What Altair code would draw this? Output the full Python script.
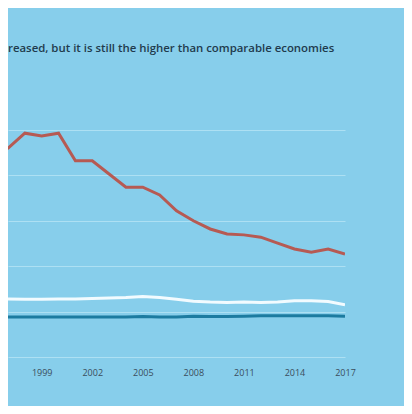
import altair as alt
import pandas as pd

years = list(range(1996, 2018))
red_vals = [44.5, 46.0, 49.3, 48.7, 49.3, 43.2, 43.2, 40.3, 37.4, 37.4, 35.7, 32.2,
            30.0, 28.2, 27.1, 26.9, 26.4, 25.1, 23.8, 23.1, 23.8, 22.7]
white_vals = [12.8, 12.8, 12.7, 12.7, 12.8, 12.8, 12.9, 13.0, 13.1, 13.3, 13.1, 12.7,
              12.3, 12.1, 12.0, 12.1, 12.0, 12.1, 12.4, 12.4, 12.2, 11.5]
blue_vals = [8.8, 8.8, 8.8, 8.8, 8.8, 8.8, 8.8, 8.8, 8.8, 8.9, 8.8, 8.8,
             9.0, 8.9, 8.9, 9.0, 9.1, 9.1, 9.1, 9.1, 9.1, 9.0]
series_names = ["white", "blue", "red"]
series_colors = ["#f2fbff", "#1c7ba0", "#b65a53"]
x_ticks = [1999, 2002, 2005, 2008, 2011, 2014, 2017]
y_ticks = [0, 10, 20, 30, 40, 50]
title_text = "reased, but it is still the higher than comparable economies"

rows = []
for name, vals in zip(series_names, [white_vals, blue_vals, red_vals]):
    for yr, v in zip(years, vals):
        rows.append({"year": yr, "value": v, "series": name})
df = pd.DataFrame(rows)

chart = alt.Chart(df).mark_line(strokeWidth=3, clip=True).encode(
    x=alt.X("year:Q",
            scale=alt.Scale(domain=[1997, 2017], nice=False, zero=False),
            axis=alt.Axis(values=x_ticks, format="d", title=None, grid=False,
                          domain=False, ticks=False, tickSize=0, labelPadding=11,
                          labelFlush=False, labelFontSize=9, labelColor="#3a4d5c",
                          labelFont="Open Sans")),
    y=alt.Y("value:Q",
            scale=alt.Scale(domain=[0, 50], nice=False),
            axis=alt.Axis(values=y_ticks, title=None, labels=False, ticks=False,
                          domain=False, grid=True, gridColor="#ade0f3", gridWidth=1.2)),
    color=alt.Color("series:N",
                    scale=alt.Scale(domain=series_names, range=series_colors),
                    legend=None),
    order=alt.Order("series:N"),
).properties(
    width=337,
    height=227,
    title=alt.TitleParams(text=title_text, anchor="start", offset=76, fontSize=11.4,
                          fontWeight=600, font="Open Sans", color="#1f3b4d",
                          frame="group"),
    background="#87CEEB",
    padding={"top": 122, "left": 0, "right": 59, "bottom": 49},
    autosize=alt.AutoSizeParams(type="none"),
).configure_view(stroke=None)

chart.save("out.html", embed_options={"renderer": "svg", "actions": False})
